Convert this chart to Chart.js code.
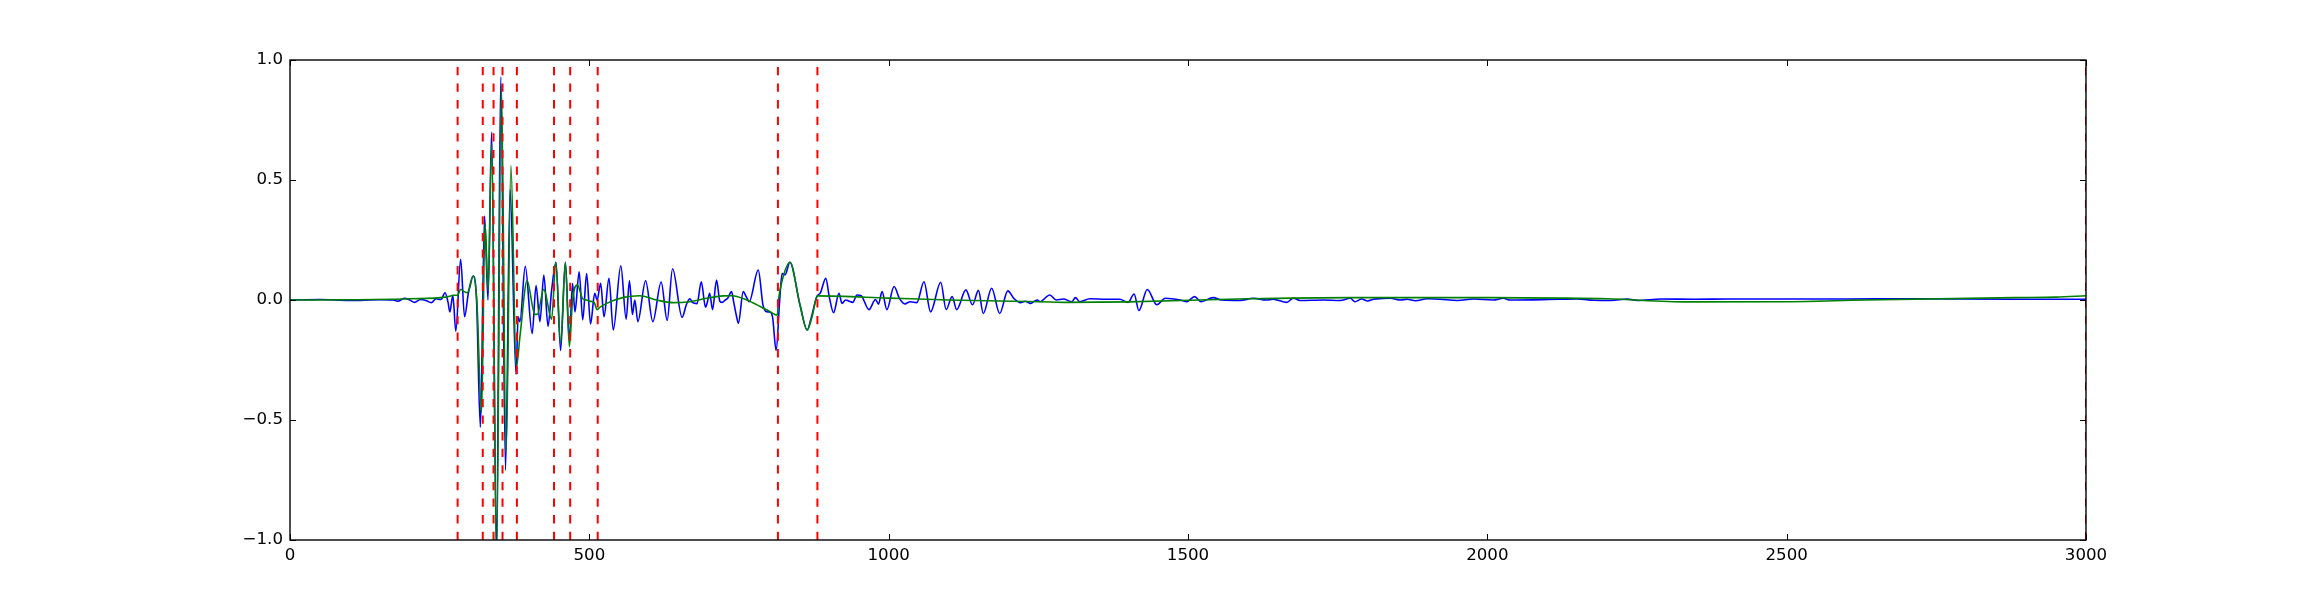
<!DOCTYPE html>
<html>
<head>
<meta charset="utf-8">
<script src="https://cdn.jsdelivr.net/npm/chart.js@4.4.1/dist/chart.umd.min.js"></script>
<style>
html,body{margin:0;padding:0;background:#ffffff;}
#wrap{width:2318px;height:600px;position:relative;}
</style>
</head>
<body>
<div id="wrap"><canvas id="c" width="2318" height="600"></canvas></div>
<script>
// ---- data ----
const blueX = [0,50,100,150,172,180,191,200,208,218,228,236,244,252,259,264,267,272,277,285,291.6,298,306,311.6,318,325,330.7,336.8,345,352,360,367.6,377.6,381,384,393,404.5,411,417.5,424,431,437,444.3,452,460,466.6,472,476,483,489,495.5,502,509,513,518.9,524.5,532.8,540,552.6,561.5,567,572,576,581,594,606,620,630,639,655,662,668,672,680,687,694,697,701,705.8,712.5,718,722,727,731,737.6,741,746,749,757,762,767,782.2,790,796,801,806,812,818,822,827,835,851.8,864,870,880,886,895,901,908,917,922,928,933,940,947,954,967,978,983,989,997,1009,1018,1027,1036,1047,1059,1070,1087,1096,1106,1113.6,1129,1140,1150,1158,1172,1185.5,1199,1209,1220,1228,1237,1248,1253,1269,1280,1292,1306,1312,1319,1336,1364,1386,1400,1410,1418,1432,1448,1462,1487,1498,1511,1522,1542,1556,1587,1609,1631,1642,1665,1676,1687,1726,1754,1771,1779,1790,1800,1810,1825,1838,1855,1866,1880,1900,1921,1950,1977,2010,2027,2038,2121,2150,2178,2206,2234,2251,2290,2346,2402,2457,2600,2700,2870,3000];
const blueY = [0,0.002,-0.002,0.001,0,-0.005,0.007,0,-0.01,0.002,-0.003,-0.011,0.005,0.002,0.03,-0.01,-0.05,0.02,-0.13,0.17,-0.07,0.03,0.1,0.0,-0.53,0.35,0.0,0.7,-1.05,0.93,-0.71,0.46,-0.31,-0.07,-0.09,0.14,-0.14,0.06,-0.09,0.104,-0.11,0.04,0.157,-0.21,0.157,-0.17,0.07,-0.05,0.118,-0.083,0.11,-0.1,0.028,0.0,0.07,-0.07,0.09,-0.125,0.142,-0.08,0.08,-0.06,0.0,-0.09,0.08,-0.09,0.075,-0.085,0.13,-0.072,-0.02,0.005,-0.01,-0.015,0.076,-0.03,-0.01,0.028,-0.04,0.083,-0.005,-0.01,0.0,0.007,0.035,-0.007,-0.07,-0.097,0.035,0.014,-0.007,0.125,-0.02,-0.049,-0.05,-0.07,-0.21,0.0,0.11,0.105,0.157,-0.02,-0.125,-0.08,0.014,0.03,0.09,0.01,-0.053,0.028,-0.014,0.0,-0.004,-0.01,0.021,0.018,-0.04,0.002,-0.017,0.035,-0.04,0.056,0.007,-0.016,-0.007,-0.011,0.076,-0.049,0.074,-0.04,0.014,-0.04,0.042,-0.02,0.04,-0.056,0.049,-0.056,0.038,0.007,-0.011,-0.005,-0.014,0.0,-0.007,0.021,0.0,0.004,-0.007,0.01,-0.007,0.005,0.003,0.003,-0.01,0.025,-0.044,0.044,-0.02,0.007,0.0,-0.007,0.014,-0.007,0.01,0.0,-0.002,0.007,0.0,0.003,-0.01,0.008,-0.002,0.0,-0.002,0.007,-0.007,0.004,-0.004,0.003,0.006,0.007,0.0,0.003,-0.003,0.005,0.003,-0.002,0.004,0.0,0.007,0.0,0.003,0.004,-0.001,-0.002,0.004,-0.002,0.004,0.003,0.004,0.004,0.004,0.005,0.003,0.003];

const greenX = [0,100,200,260,275,280,285,291,296,300,306,312,320,325.8,331,337,345,353,361,369,378,384.6,396,409,413,424,437,444,452,460,466.6,472,480,489,495,501,508,513,518,529,557,584,612,640,668,696,724,738,763,786,802,814,816,822,835,851.8,864,872,881,1000,1100,1253,1300,1400,1600,1771,2000,2121,2200,2335,2500,2630,2880,2950,3000];
const greenY = [0,0.001,0.005,0.012,0.02,0.02,0.045,0.035,0.03,0.05,0.1,0.0,-0.47,0.32,0.04,0.65,-1.1,0.9,-0.64,0.56,-0.28,-0.14,0.08,-0.06,-0.06,0.045,-0.08,0.157,-0.18,0.157,-0.195,0.0,0.063,0.005,0.0,-0.005,-0.01,-0.04,-0.03,-0.014,0.011,0.018,0.0,-0.011,-0.007,0.007,0.017,0.018,0.0,-0.028,-0.049,-0.063,0.0,0.08,0.157,-0.02,-0.125,-0.07,0.017,0.008,0.0,-0.007,-0.01,-0.008,0.005,0.01,0.01,0.008,0.005,-0.008,-0.007,0.0,0.01,0.012,0.018];

const markerX = [280,322,340,355,379,441,468,514,815,881,3000];

const xTicks = [0,500,1000,1500,2000,2500,3000];
const xTickLabels = ['0','500','1000','1500','2000','2500','3000'];
const yTicks = [-1,-0.5,0,0.5,1];
const yTickLabels = ['\u22121.0','\u22120.5','0.0','0.5','1.0'];

// ---- chart ----
const toPts = (xs, ys) => xs.map((x, i) => ({x: x, y: ys[i]}));

const datasets = [];
markerX.forEach(v => {
  datasets.push({
    data: [{x: v, y: -1}, {x: v, y: 1}],
    borderColor: '#ff0000',
    borderWidth: 2,
    borderDash: [8.3, 8.3],
    pointRadius: 0,
    tension: 0,
    clip: 0,
    order: 1
  });
});
datasets.push({
  data: toPts(greenX, greenY),
  borderColor: '#008000',
  borderWidth: 1.6,
  pointRadius: 0,
  cubicInterpolationMode: 'monotone',
  clip: 0,
  order: 2
});
datasets.push({
  data: toPts(blueX, blueY),
  borderColor: '#0000ff',
  borderWidth: 1.6,
  pointRadius: 0,
  cubicInterpolationMode: 'monotone',
  clip: 0,
  order: 3
});

const frameAndTicks = {
  id: 'frameAndTicks',
  afterDatasetsDraw(chart) {
    const {ctx, chartArea: a, scales} = chart;
    const xs = scales.x, ys = scales.y;
    ctx.save();
    ctx.strokeStyle = '#000000';
    ctx.lineWidth = 1;
    const L = 6;
    ctx.beginPath();
    xs.ticks.forEach(t => {
      const px = Math.round(xs.getPixelForValue(t.value)) + 0.5;
      ctx.moveTo(px, a.bottom); ctx.lineTo(px, a.bottom - L);
      ctx.moveTo(px, a.top); ctx.lineTo(px, a.top + L);
    });
    ys.ticks.forEach(t => {
      const py = Math.round(ys.getPixelForValue(t.value)) + 0.5;
      ctx.moveTo(a.left, py); ctx.lineTo(a.left + L, py);
      ctx.moveTo(a.right, py); ctx.lineTo(a.right - L, py);
    });
    ctx.stroke();
    ctx.lineWidth = 1.4;
    ctx.strokeRect(a.left, a.top, a.right - a.left, a.bottom - a.top);
    ctx.restore();
  }
};

new Chart(document.getElementById('c'), {
  type: 'line',
  data: {datasets: datasets},
  plugins: [frameAndTicks],
  options: {
    responsive: false,
    devicePixelRatio: 1,
    animation: false,
    events: [],
    layout: {padding: {left: 0, right: 232, top: 60, bottom: 0}},
    plugins: {legend: {display: false}, tooltip: {enabled: false}},
    scales: {
      x: {
        type: 'linear',
        min: 0, max: 3000,
        border: {display: false},
        grid: {display: true, drawOnChartArea: false, drawTicks: false, color: 'rgba(0,0,0,0)'},
        afterBuildTicks: s => { s.ticks = xTicks.map(v => ({value: v})); },
        afterFit: s => { s.height = 60; },
        ticks: {
          color: '#000000',
          font: {family: 'DejaVu Sans', size: 16.67},
          padding: 6,
          maxRotation: 0,
          autoSkip: false,
          callback: (v) => xTickLabels[xTicks.indexOf(v)]
        }
      },
      y: {
        type: 'linear',
        min: -1, max: 1,
        border: {display: false},
        grid: {display: true, drawOnChartArea: false, drawTicks: false, color: 'rgba(0,0,0,0)'},
        afterBuildTicks: s => { s.ticks = yTicks.map(v => ({value: v})); },
        afterFit: s => { s.width = 290; },
        ticks: {
          color: '#000000',
          font: {family: 'DejaVu Sans', size: 16.67},
          padding: 7,
          autoSkip: false,
          callback: (v) => yTickLabels[yTicks.indexOf(v)]
        }
      }
    }
  }
});
</script>
</body>
</html>
